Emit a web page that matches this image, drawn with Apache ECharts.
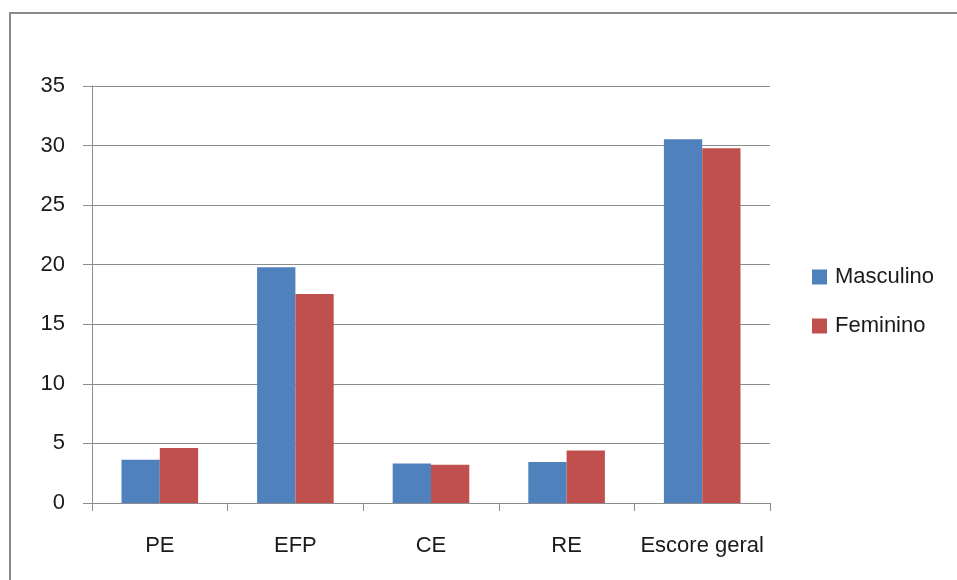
<!DOCTYPE html>
<html>
<head>
<meta charset="utf-8">
<script src="https://cdn.jsdelivr.net/npm/echarts@6/dist/echarts.min.js"></script>
<style>
html,body{margin:0;padding:0;background:#fff;}
#chart{width:957px;height:580px;}
</style>
</head>
<body>
<div id="chart"></div>
<script>
var categories = ['PE', 'EFP', 'CE', 'RE', 'Escore geral'];
var masculino = [3.64, 19.78, 3.31, 3.44, 30.53];
var feminino = [4.62, 17.54, 3.22, 4.40, 29.77];
var seriesNames = ['Masculino', 'Feminino'];
var yTicks = [0, 5, 10, 15, 20, 25, 30, 35];

var FONT = '"Liberation Sans", Arial, sans-serif';
var chart = echarts.init(document.getElementById('chart'), null, {renderer: 'canvas'});
chart.setOption({
  animation: false,
  backgroundColor: '#ffffff',
  graphic: [{
    type: 'polyline',
    shape: {points: [[10, 600], [10, 13], [980, 13]]},
    style: {stroke: '#8a8a8a', lineWidth: 2, fill: null}
  }],
  grid: {left: 92, right: 187, top: 86, bottom: 77, containLabel: false},
  legend: {
    orient: 'vertical',
    left: 812,
    top: 266,
    padding: 0,
    itemWidth: 15,
    itemHeight: 15,
    itemGap: 27,
    icon: 'rect',
    data: seriesNames,
    textStyle: {fontFamily: FONT, fontSize: 22, color: '#1a1a1a', padding: [0, 0, 0, 3]}
  },
  xAxis: {
    type: 'category',
    data: categories,
    axisLine: {lineStyle: {color: '#8c8c8c', width: 1}},
    axisTick: {show: true, interval: 0, length: 8, lineStyle: {color: '#8c8c8c'}},
    axisLabel: {interval: 0, fontFamily: FONT, fontSize: 22, color: '#1a1a1a', margin: 32},
    splitLine: {show: false}
  },
  yAxis: {
    type: 'value',
    min: yTicks[0],
    max: yTicks[yTicks.length - 1],
    interval: 5,
    axisLine: {show: true, lineStyle: {color: '#8c8c8c', width: 1}},
    axisTick: {show: true, length: 9, lineStyle: {color: '#8c8c8c'}},
    axisLabel: {fontFamily: FONT, fontSize: 22, color: '#1a1a1a', margin: 27},
    splitLine: {show: true, lineStyle: {color: '#8c8c8c', width: 1}}
  },
  series: [
    {name: seriesNames[0], type: 'bar', data: masculino, barGap: '0%', barCategoryGap: '43.5%',
     itemStyle: {color: '#4f81bd'}},
    {name: seriesNames[1], type: 'bar', data: feminino, barGap: '0%', barCategoryGap: '43.5%',
     itemStyle: {color: '#c0504d'}}
  ]
});
</script>
</body>
</html>
